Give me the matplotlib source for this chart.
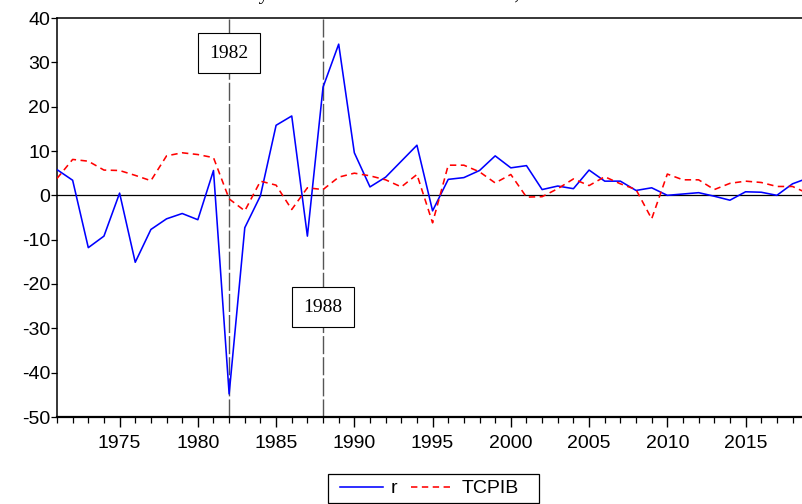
import matplotlib
matplotlib.use("Agg")
import matplotlib.pyplot as plt
from matplotlib.ticker import MultipleLocator
from matplotlib.patches import Rectangle

# Datos
years = list(range(1971, 2020))
r = [5.8, 3.4, -11.8, -9.2, 0.5, -15.1, -7.7, -5.3, -4.1, -5.5,
     5.6, -44.8, -7.3, -0.1, 15.8, 17.9, -9.2, 24.4, 34.1, 9.6,
     1.9, 4.1, 7.7, 11.3, -3.5, 3.6, 4.0, 5.6, 8.9, 6.2,
     6.7, 1.3, 2.1, 1.5, 5.7, 3.2, 3.2, 1.1, 1.7, 0.0,
     0.3, 0.6, -0.2, -1.1, 0.8, 0.7, 0.0, 2.6, 3.9]
tcpib = [3.8, 8.1, 7.7, 5.7, 5.6, 4.5, 3.3, 8.9, 9.6, 9.2,
         8.5, -0.8, -3.5, 3.2, 2.3, -3.2, 1.7, 1.3, 4.1, 5.0,
         4.4, 3.5, 1.9, 4.7, -6.2, 6.8, 6.8, 5.3, 2.8, 4.7,
         -0.4, -0.3, 1.5, 3.7, 2.2, 4.2, 2.6, 1.3, -5.3, 4.8,
         3.5, 3.5, 1.3, 2.7, 3.2, 2.9, 2.0, 2.0, 0.4]
breaks = [1982, 1988]
break_label_y = [32.1, -25.2]
yticks = [40, 30, 20, 10, 0, -10, -20, -30, -40, -50]

plt.rcParams['font.family'] = ['Liberation Sans', 'DejaVu Sans']
plt.rcParams['axes.unicode_minus'] = False

W, H = 803, 504
fig = plt.figure(figsize=(W / 100, H / 100), dpi=100)
ax = fig.add_axes([57 / W, 87 / H, 746 / W, 399 / H])

# titulo cortado arriba (solo se ven los trazos descendentes)
fig.text(92 / W, 1 + 0.5 / H, "Tasa de interés real y Tasa de Crecimiento del PIB, 1971-2019",
         family="Liberation Serif", fontsize=15, ha="left", va="baseline")

ax.axhline(0, color="black", lw=0.9, zorder=1)
for yr, yl in zip(breaks, break_label_y):
    ax.axvline(yr, color="#555555", lw=1.0, dashes=(13, 2.2), zorder=2)
    ax.text(yr, yl, str(yr), family="Liberation Serif", fontsize=14,
            ha="center", va="center", zorder=4,
            bbox=dict(boxstyle="square,pad=0.6", fc="white", ec="black", lw=0.8))

ax.plot(years, r, color="#0000FF", lw=1.15, label="r", zorder=3)
ax.plot(years, tcpib, color="#FF0000", lw=1.15, dashes=(4, 2.8), label="TCPIB", zorder=3)

ax.set_xlim(1971, 2018.67)
ax.set_ylim(-50, 40)
ax.set_yticks(yticks)
ax.set_xticks(range(1975, 2019, 5))
ax.xaxis.set_minor_locator(MultipleLocator(1))

ax.tick_params(axis="y", direction="out", length=4, width=0.9, pad=1, labelsize=14)
ax.tick_params(axis="x", which="major", direction="out", length=7, width=1.0, pad=6, labelsize=14)
ax.tick_params(axis="x", which="minor", direction="out", length=4, width=0.9)

ax.spines["right"].set_visible(False)
ax.spines["top"].set_linewidth(1.1)
ax.spines["left"].set_linewidth(1.1)
ax.spines["bottom"].set_linewidth(1.6)

# leyenda con marco propio (como en EViews)
fig.add_artist(Rectangle((328 / W, 1 - 503 / H), 211 / W, 29 / H, transform=fig.transFigure,
                         fill=False, ec="black", lw=0.9))
fig.legend(loc="center left", bbox_to_anchor=(340 / W, 1 - 488.5 / H), ncol=2,
           fontsize=14, frameon=False, handlelength=2.2, handletextpad=0.41,
           columnspacing=0.72, borderpad=0, borderaxespad=0)

fig.savefig("out.png", dpi=100)
